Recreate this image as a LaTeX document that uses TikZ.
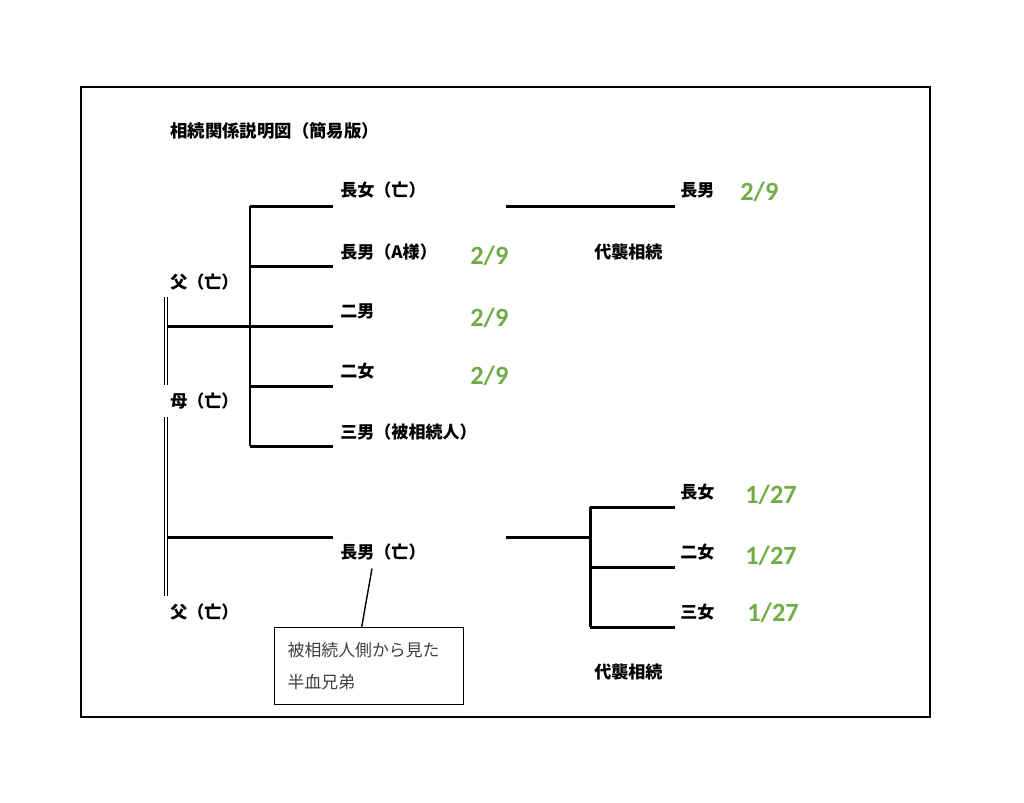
\documentclass[tikz,border=0pt]{standalone}
\usepackage{fontspec}
\newfontfamily\jpfont{Noto Sans CJK JP}
\newfontfamily\numfont{Carlito}
\definecolor{sharegreen}{HTML}{70AD47}

\begin{document}
\begin{tikzpicture}[
    x=0.02cm, y=-0.02cm,
    tree/.style={line width=1.7pt},
    couple/.style={double, line width=0.7pt, double distance=0.8pt},
    person/.style={anchor=west, inner sep=0pt, font=\jpfont\bfseries\fontsize{9.7}{11}\selectfont},
    share/.style={anchor=west, inner sep=0pt, text=sharegreen, font=\numfont\bfseries\fontsize{15}{18}\selectfont},
    note/.style={draw, line width=0.8pt, anchor=north west, minimum width=3.78cm, minimum height=1.54cm,
        text width=3.26cm, inner xsep=0.26cm, align=left, text=black!75,
        font=\jpfont\fontsize{9.6}{18}\selectfont}
]
    \useasboundingbox (0,0) rectangle (1024,802);

    % Frame and title
    \draw[line width=1.4pt] (81,87) rectangle (930,717);
    \node[person, font=\jpfont\bfseries\fontsize{9.9}{12}\selectfont] (title) at (170,131) {相続関係説明図（簡易版）};

    % Parents
    \node[person] (father) at (170,282) {父（亡）};
    \node[person] (mother) at (170,401) {母（亡）};
    \node[person] (father2) at (170,612) {父（亡）};
    \draw[couple] (166,297) -- (166,385);
    \draw[couple] (166,417) -- (166,596);

    % Children of father and mother
    \node[person] (daughter1) at (340,190) {長女（亡）};
    \node[person] (son1) at (340,252) {長男（A様）};
    \node[person] (son2) at (340,311) {二男};
    \node[person] (daughter2) at (340,371) {二女};
    \node[person] (son3) at (340,432) {三男（被相続人）};
    \node[share] (share1) at (470,256) {2/9};
    \node[share] (share2) at (470,318) {2/9};
    \node[share] (share3) at (470,376) {2/9};

    \coordinate (top) at (250,206);
    \coordinate (bottom) at (250,446);
    \draw[tree] (168,326) -- (333,326);
    \draw[tree] (top) -- (bottom);
    \foreach \y in {206,266,386,446}
        \draw[tree] (250,\y) -- (333,\y);

    % Representation for the eldest daughter
    \node[person] (grandson) at (680,190) {長男};
    \node[share] (share4) at (740,192) {2/9};
    \node[person] (rep1) at (594,252) {代襲相続};
    \draw[tree] (506,206) -- (675,206);

    % Half-blood brother
    \node[person] (halfson) at (340,552) {長男（亡）};
    \node[note] (remark) at (274,627) {被相続人側から見た\\半血兄弟};
    \draw[tree] (168,537) -- (333,537);
    \draw[line width=0.8pt] ([xshift=-0.22cm, yshift=-0.16cm]halfson.south) -- ([xshift=-0.15cm]remark.north);

    % Representation for the half-blood brother
    \node[person] (grand1) at (680,492) {長女};
    \node[person] (grand2) at (680,552) {二女};
    \node[person] (grand3) at (680,612) {三女};
    \node[share] (share5) at (745,495) {1/27};
    \node[share] (share6) at (745,556) {1/27};
    \node[share] (share7) at (747,613) {1/27};
    \node[person] (rep2) at (594,672) {代襲相続};
    \draw[tree] (506,537) -- (590,537);
    \draw[tree] (590,507) -- (590,627);
    \foreach \y in {507,567,627}
        \draw[tree] (590,\y) -- (675,\y);
\end{tikzpicture}
\end{document}
